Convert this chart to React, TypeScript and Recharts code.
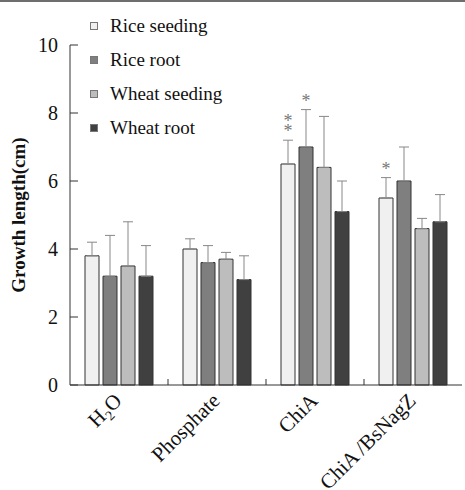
import React from "react"
import { BarChart, Bar, XAxis, YAxis, ErrorBar, Legend, LabelList } from "recharts"

const categories = ["H2O", "Phosphate", "ChiA", "ChiA /BsNagZ"]
const riceSeeding = [3.8, 4.0, 6.5, 5.5]
const riceSeedingErr = [0.4, 0.3, 0.7, 0.6]
const riceRoot = [3.2, 3.6, 7.0, 6.0]
const riceRootErr = [1.2, 0.5, 1.1, 1.0]
const wheatSeeding = [3.5, 3.7, 6.4, 4.6]
const wheatSeedingErr = [1.3, 0.2, 1.5, 0.3]
const wheatRoot = [3.2, 3.1, 5.1, 4.8]
const wheatRootErr = [0.9, 0.7, 0.9, 0.8]
const riceSeedingSig = ["", "", "**", "*"]
const riceRootSig = ["", "", "*", ""]
const yTicks = [0, 2, 4, 6, 8, 10]

const series = [
  { key: "rs", name: "Rice seeding", fill: "#f0f0f0" },
  { key: "rr", name: "Rice root", fill: "#7f7f7f" },
  { key: "ws", name: "Wheat seeding", fill: "#bdbdbd" },
  { key: "wr", name: "Wheat root", fill: "#404040" },
]

const data = categories.map((c, i) => ({
  name: c,
  rs: riceSeeding[i],
  rsErr: [0, riceSeedingErr[i]],
  rsSig: riceSeedingSig[i],
  rr: riceRoot[i],
  rrErr: [0, riceRootErr[i]],
  rrSig: riceRootSig[i],
  ws: wheatSeeding[i],
  wsErr: [0, wheatSeedingErr[i]],
  wr: wheatRoot[i],
  wrErr: [0, wheatRootErr[i]],
}))

const FONT = "'Liberation Serif', 'Times New Roman', serif"
const W = 465
const H = 490
const AXIS_X = 70
const PLOT_BOTTOM = 385
const BAND = (W - 3 - AXIS_X) / categories.length

const YTick = ({ y, payload }: any) => (
  <g>
    <line x1={AXIS_X} x2={AXIS_X + 8} y1={y} y2={y} stroke="#333" strokeWidth={1} />
    <text x={AXIS_X - 12} y={y} dy={7} textAnchor="end" fill="#111" style={{ fontFamily: FONT, fontSize: 20 }}>
      {payload.value}
    </text>
  </g>
)

const XTick = ({ x, index, payload }: any) => {
  const lx = x + 4
  const ly = PLOT_BOTTOM + 17
  return (
    <g>
      {index < categories.length - 1 && (
        <line x1={x + BAND / 2} x2={x + BAND / 2} y1={PLOT_BOTTOM} y2={PLOT_BOTTOM - 6} stroke="#333" />
      )}
      <text
        x={lx}
        y={ly}
        textAnchor="end"
        fill="#111"
        style={{ fontFamily: FONT, fontSize: 21 }}
        transform={`rotate(-45 ${lx} ${ly})`}
      >
        {payload.value === "H2O" ? (
          <>
            H<tspan fontSize={14} dy={5}>2</tspan><tspan dy={-5}>O</tspan>
          </>
        ) : (
          payload.value
        )}
      </text>
    </g>
  )
}

const starLabel = (valKey: string, errKey: string) => (props: any) => {
  const { x, y, width, height, index, value } = props
  if (!value) return null
  const row: any = data[index]
  const scale = height / row[valKey]
  const errTop = y - row[errKey][1] * scale
  const cx = x + width / 2
  return (
    <g>
      {value.split("").map((s: string, i: number) => (
        <text key={i} x={cx} y={errTop - 3 - i * 10} textAnchor="middle" fill="#777" style={{ fontFamily: FONT, fontSize: 18 }}>
          *
        </text>
      ))}
    </g>
  )
}

const LegendBox = () => (
  <div style={{ fontFamily: FONT, fontSize: 19, color: "#111" }}>
    {series.map((s) => (
      <div key={s.key} style={{ display: "flex", alignItems: "center", height: 34 }}>
        <span style={{ width: 6, height: 6, background: s.fill, border: "1px solid #777", marginRight: 12 }} />
        <span>{s.name}</span>
      </div>
    ))}
  </div>
)

export default function App() {
  return (
    <div style={{ position: "absolute", left: 0, top: 0, width: W, height: H, background: "#fff" }}>
      <div style={{ position: "absolute", left: 0, top: 0, width: W, height: 2, background: "#6e6e6e" }} />
      <BarChart
        width={W}
        height={H}
        data={data}
        margin={{ top: 45, right: 3, left: 0, bottom: 0 }}
        barCategoryGap={15}
        barGap={4}
      >
        <XAxis dataKey="name" height={105} tickLine={false} interval={0} stroke="#333" tick={<XTick />} />
        <YAxis
          width={70}
          domain={[0, 10]}
          ticks={yTicks}
          tickLine={false}
          stroke="#333"
          tick={<YTick />}
          label={{
            value: "Growth length(cm)",
            angle: -90,
            position: "center",
            dx: -17,
            style: { fontFamily: FONT, fontSize: 19, fontWeight: "bold", fill: "#111" },
          }}
        />
        <Legend
          layout="horizontal"
          verticalAlign="middle"
          align="center"
          content={<LegendBox />}
          wrapperStyle={{ top: 9, left: 90, width: 220, height: 140 }}
        />
        {series.map((s) => (
          <Bar key={s.key} dataKey={s.key} name={s.name} fill={s.fill} stroke="#333" strokeWidth={1} isAnimationActive={false}>
            <ErrorBar dataKey={`${s.key}Err`} width={5} stroke="#888" strokeWidth={1} />
            {s.key === "rs" && <LabelList dataKey="rsSig" content={starLabel("rs", "rsErr")} />}
            {s.key === "rr" && <LabelList dataKey="rrSig" content={starLabel("rr", "rrErr")} />}
          </Bar>
        ))}
      </BarChart>
    </div>
  )
}
